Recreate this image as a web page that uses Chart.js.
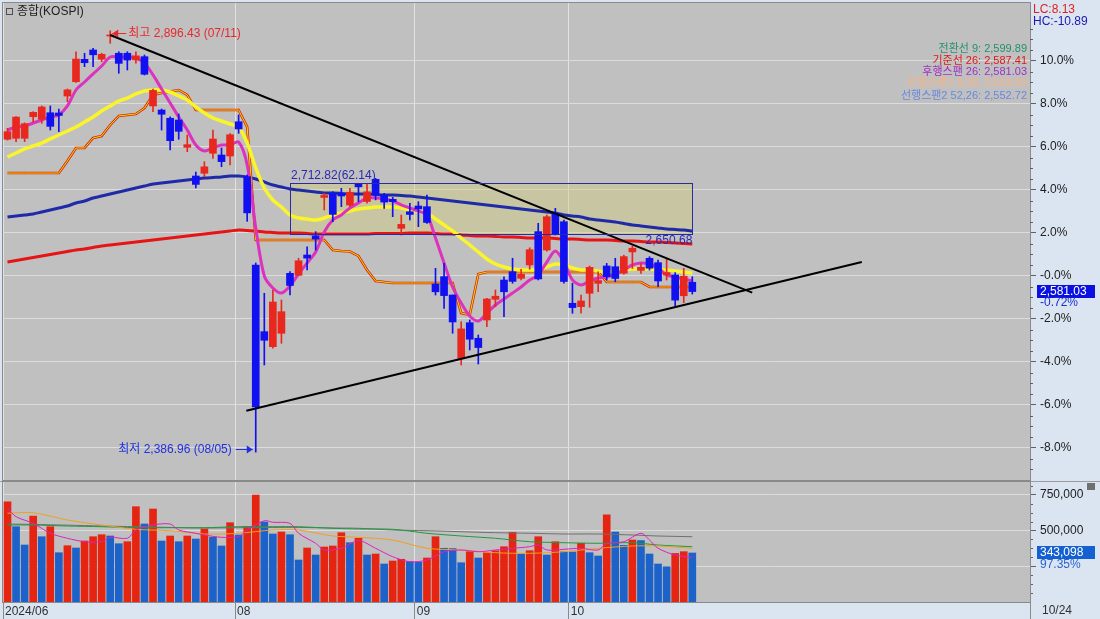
<!DOCTYPE html>
<html lang="ko">
<head>
<meta charset="utf-8">
<title>종합(KOSPI)</title>
<script src="https://cdn.jsdelivr.net/npm/chart.js@4.4.1/dist/chart.umd.min.js"></script>
<style>
  html, body { margin: 0; padding: 0; background: #dbe5f1; }
  #wrap { position: relative; width: 1100px; height: 619px; overflow: hidden; }
  #priceChart { position: absolute; left: 0; top: 0; }
  #volChart { position: absolute; left: 0; top: 481px; }
</style>
</head>
<body>
<div id="wrap">
  <canvas id="priceChart" width="1100" height="482"></canvas>
  <canvas id="volChart" width="1100" height="138"></canvas>
</div>
<script>
// 0% 기준가 (전환선)
const basePrice = 2599.89;

// 일봉 2024/06/25 ~ 2024/10/24 (81일)
const opens = [2765.2, 2766.4, 2766.4, 2792.5, 2789.4, 2797.3, 2797.0, 2817.5, 2834.8, 2861.9,
  2873.2, 2862.0, 2890.1, 2869.2, 2869.2, 2861.1, 2865.1, 2805.5, 2800.6, 2790.6,
  2788.5, 2755.5, 2720.8, 2724.1, 2748.3, 2746.2, 2745.0, 2786.4, 2720.0, 2613.0,
  2532.6, 2514.4, 2530.6, 2603.1, 2600.7, 2625.3, 2648.3, 2694.9, 2699.9, 2699.9,
  2685.6, 2711.1, 2690.0, 2716.8, 2697.8, 2692.6, 2657.5, 2677.6, 2684.5, 2683.7,
  2590.2, 2599.1, 2576.9, 2500.4, 2543.4, 2524.6, 2546.7, 2571.7, 2595.0, 2605.1,
  2597.1, 2613.2, 2653.5, 2631.3, 2675.7, 2665.5, 2566.9, 2562.8, 2579.0, 2591.0,
  2612.0, 2611.1, 2603.2, 2629.0, 2606.6, 2621.3, 2616.0, 2601.1, 2601.1, 2576.0,
  2592.3];
const highs = [2778.5, 2792.6, 2785.0, 2798.6, 2805.5, 2805.5, 2801.8, 2826.0, 2871.1, 2869.2,
  2875.2, 2869.2, 2896.43, 2871.1, 2871.1, 2871.1, 2867.1, 2826.0, 2801.8, 2792.5,
  2795.8, 2770.4, 2725.6, 2738.1, 2776.4, 2754.7, 2772.0, 2794.6, 2722.0, 2615.6,
  2579.0, 2583.0, 2570.9, 2605.1, 2621.3, 2635.3, 2653.5, 2699.9, 2701.8, 2705.9,
  2705.9, 2712.0, 2712.0, 2718.0, 2699.9, 2695.0, 2673.6, 2687.8, 2689.7, 2697.8,
  2609.2, 2615.2, 2576.9, 2544.6, 2546.7, 2528.5, 2573.0, 2583.0, 2599.0, 2621.3,
  2608.0, 2634.0, 2663.6, 2673.6, 2681.7, 2667.6, 2591.1, 2576.9, 2612.0, 2605.0,
  2615.2, 2621.3, 2625.0, 2636.0, 2615.0, 2623.2, 2619.2, 2620.0, 2604.0, 2609.2,
  2599.0];
const lows = [2764.3, 2762.3, 2762.3, 2786.4, 2784.5, 2776.4, 2774.4, 2810.6, 2834.0, 2853.0,
  2853.0, 2859.0, 2881.3, 2845.0, 2849.0, 2857.1, 2843.0, 2798.6, 2776.4, 2752.2,
  2765.2, 2750.2, 2706.3, 2720.0, 2742.2, 2732.0, 2734.1, 2772.4, 2666.0, 2386.96,
  2492.3, 2512.5, 2518.5, 2576.9, 2600.7, 2607.1, 2631.3, 2679.7, 2665.5, 2683.7,
  2683.7, 2689.7, 2688.0, 2691.9, 2681.7, 2671.6, 2649.4, 2667.6, 2659.5, 2663.6,
  2576.9, 2560.8, 2530.6, 2492.3, 2510.4, 2493.5, 2538.6, 2562.8, 2550.7, 2591.1,
  2595.0, 2608.0, 2595.1, 2629.9, 2649.4, 2591.1, 2554.8, 2554.8, 2562.0, 2581.0,
  2595.0, 2593.0, 2602.0, 2609.0, 2603.0, 2607.0, 2587.0, 2595.0, 2563.6, 2567.6,
  2578.0];
const closes = [2774.39, 2792.05, 2784.06, 2797.82, 2804.31, 2780.86, 2794.01, 2824.94, 2862.23, 2857.76,
  2867.38, 2867.99, 2891.35, 2857.00, 2860.92, 2866.09, 2843.82, 2824.35, 2795.46, 2763.51,
  2774.82, 2758.71, 2710.65, 2731.90, 2765.52, 2738.19, 2770.69, 2777.68, 2676.19, 2441.55,
  2522.15, 2568.41, 2556.73, 2588.43, 2618.30, 2621.50, 2644.50, 2697.23, 2674.36, 2696.63,
  2701.13, 2707.67, 2701.69, 2698.01, 2689.25, 2689.83, 2662.28, 2674.31, 2681.00, 2664.63,
  2580.80, 2576.20, 2544.28, 2535.93, 2523.43, 2513.37, 2572.09, 2575.41, 2580.80, 2593.37,
  2602.01, 2631.68, 2596.32, 2671.57, 2649.78, 2593.27, 2561.69, 2569.71, 2610.38, 2594.36,
  2599.16, 2596.91, 2623.34, 2633.45, 2610.36, 2609.30, 2593.82, 2604.06, 2570.70, 2599.62,
  2581.03];

// 이동평균/지표선
const ma5 = [2776.4, 2780.1, 2781.3, 2784.9, 2788.5, 2792.2, 2794.6, 2805.5, 2824.8, 2834.5,
  2844.2, 2853.8, 2864.7, 2864.7, 2864.7, 2863.5, 2857.5, 2843.0, 2826.0, 2809.1,
  2792.2, 2776.4, 2758.3, 2751.1, 2754.7, 2758.3, 2758.3, 2761.9, 2734.1, 2657.9,
  2599.9, 2585.4, 2579.3, 2587.8, 2602.3, 2615.6, 2628.9, 2653.1, 2667.6, 2673.7,
  2682.1, 2688.2, 2694.2, 2694.2, 2693.0, 2690.6, 2685.8, 2682.1, 2678.5, 2673.7,
  2645.8, 2615.6, 2586.6, 2567.2, 2551.5, 2545.5, 2555.1, 2564.8, 2572.1, 2579.3,
  2586.6, 2595.1, 2601.1, 2616.8, 2630.1, 2616.8, 2595.1, 2589.0, 2593.8, 2597.5,
  2598.7, 2602.3, 2607.2, 2613.2, 2615.6, 2614.4, 2609.6, 2601.1, 2598.7, 2596.3,
  2593.8];
const ma20 = [2743.8, 2748.6, 2753.5, 2757.1, 2760.7, 2765.6, 2770.4, 2775.2, 2780.1, 2786.1,
  2792.2, 2799.4, 2805.5, 2811.5, 2815.1, 2820.0, 2823.6, 2824.8, 2824.8, 2822.4,
  2817.6, 2812.7, 2804.3, 2797.0, 2791.0, 2787.3, 2783.7, 2780.1, 2760.7, 2730.5,
  2706.3, 2691.8, 2683.3, 2673.7, 2670.0, 2668.8, 2667.6, 2670.0, 2673.7, 2676.1,
  2678.5, 2680.9, 2682.1, 2683.3, 2683.3, 2683.3, 2682.1, 2679.7, 2678.5, 2676.1,
  2668.8, 2661.6, 2654.3, 2645.8, 2637.4, 2628.9, 2620.5, 2614.4, 2610.8, 2608.4,
  2607.2, 2607.2, 2607.2, 2610.8, 2614.4, 2613.2, 2609.6, 2607.2, 2607.2, 2605.9,
  2604.7, 2605.9, 2607.2, 2608.4, 2608.4, 2608.4, 2607.2, 2607.2, 2605.9, 2604.7,
  2603.5];
const kijun = [2724.4, 2724.4, 2724.4, 2724.4, 2724.4, 2724.4, 2724.4, 2739.0, 2754.7, 2754.7,
  2766.8, 2769.2, 2782.5, 2793.4, 2794.6, 2795.8, 2803.0, 2818.8, 2821.2, 2823.0,
  2824.8, 2818.8, 2800.6, 2800.6, 2800.6, 2800.6, 2800.6, 2800.6, 2780.1, 2643.4,
  2643.4, 2643.4, 2643.4, 2643.4, 2643.4, 2643.4, 2643.4, 2643.4, 2631.3, 2630.1,
  2629.5, 2624.1, 2607.2, 2593.8, 2592.6, 2591.4, 2591.4, 2591.4, 2591.4, 2591.4,
  2591.4, 2591.4, 2591.4, 2555.1, 2552.7, 2602.3, 2604.7, 2604.7, 2604.7, 2604.7,
  2604.7, 2604.7, 2604.7, 2604.7, 2604.7, 2604.7, 2604.7, 2604.7, 2604.7, 2604.7,
  2592.6, 2592.6, 2592.6, 2592.6, 2592.6, 2586.6, 2586.6, 2586.6, 2586.6, 2586.6,
  2586.6];
const ma60 = [2671.2, 2672.4, 2673.7, 2674.9, 2677.3, 2679.7, 2682.1, 2684.5, 2688.2, 2690.6,
  2694.2, 2696.6, 2699.1, 2701.5, 2703.9, 2706.3, 2708.7, 2711.1, 2712.4, 2713.6,
  2714.8, 2716.0, 2717.2, 2718.4, 2719.0, 2719.6, 2720.8, 2720.8, 2719.6, 2717.2,
  2713.6, 2709.9, 2707.5, 2705.1, 2703.9, 2702.7, 2701.5, 2700.3, 2700.3, 2699.7,
  2699.1, 2699.1, 2699.1, 2698.4, 2697.8, 2697.8, 2697.2, 2696.6, 2695.4, 2694.2,
  2693.0, 2691.8, 2690.6, 2689.4, 2688.2, 2687.0, 2685.8, 2684.5, 2683.3, 2682.1,
  2680.9, 2679.7, 2678.5, 2677.3, 2676.1, 2673.7, 2672.4, 2671.2, 2668.8, 2667.6,
  2666.4, 2665.2, 2663.4, 2661.6, 2660.4, 2659.1, 2657.9, 2656.7, 2656.1, 2655.5,
  2654.3];
const ma120 = [2616.8, 2618.6, 2620.5, 2622.3, 2624.1, 2625.9, 2627.7, 2629.5, 2631.3, 2632.5,
  2634.4, 2636.2, 2637.4, 2638.6, 2639.8, 2641.0, 2642.2, 2643.4, 2644.6, 2645.8,
  2647.1, 2648.3, 2649.5, 2650.7, 2651.9, 2653.1, 2654.3, 2655.5, 2654.9, 2654.3,
  2653.1, 2652.5, 2651.9, 2651.9, 2651.9, 2651.3, 2650.7, 2650.7, 2650.7, 2650.7,
  2650.7, 2650.7, 2650.7, 2651.3, 2651.3, 2651.3, 2651.3, 2651.9, 2651.9, 2651.9,
  2651.3, 2650.7, 2650.7, 2649.5, 2648.9, 2648.3, 2648.3, 2647.7, 2647.1, 2647.1,
  2646.5, 2645.8, 2645.8, 2645.8, 2645.2, 2644.6, 2644.6, 2644.0, 2643.4, 2643.4,
  2643.4, 2642.8, 2642.2, 2642.2, 2641.6, 2641.0, 2641.0, 2640.4, 2639.8, 2639.2,
  2638.6];

// 추세선 (x = 봉 번호)
const trendDownX = [12, 87.0];
const trendDownY = [2891.3, 2579.7];
const trendUpX = [27.9, 99.8];
const trendUpY = [2437.0, 2616.8];

// 박스 구간
const boxFrom = 33, boxTo = 80;
const boxTop = 2712.82, boxBottom = 2650.68;

// 거래량
const vols = [702000, 527000, 399000, 602000, 457000, 527000, 345000, 394000, 378000, 427000,
  457000, 471000, 462000, 408000, 422000, 667000, 546000, 651000, 427000, 462000,
  422000, 462000, 441000, 511000, 453000, 392000, 555000, 469000, 527000, 749000,
  560000, 476000, 490000, 471000, 294000, 378000, 329000, 385000, 392000, 485000,
  415000, 446000, 329000, 336000, 266000, 287000, 299000, 282000, 278000, 308000,
  457000, 376000, 374000, 275000, 352000, 308000, 345000, 359000, 387000, 488000,
  336000, 359000, 457000, 329000, 422000, 352000, 350000, 411000, 345000, 322000,
  611000, 490000, 397000, 434000, 430000, 336000, 266000, 247000, 340000, 352438,
  343098];
const volMa5Idx = [0, 1, 3, 5, 7, 9, 11, 12, 14, 15, 17, 19, 20, 22, 23, 25, 27, 28, 30, 31,
  33, 34, 36, 37, 39, 41, 43, 45, 47, 49, 51, 53, 55, 57, 59, 61, 62, 63, 65, 67,
  69, 70, 72, 74, 75, 76, 78, 80];
const volMa5 = [656000, 597000, 551000, 481000, 446000, 422000, 422000, 453000, 446000, 504000,
  539000, 546000, 504000, 481000, 469000, 453000, 457000, 504000, 569000, 558000,
  551000, 481000, 411000, 364000, 376000, 430000, 376000, 317000, 282000, 294000,
  352000, 364000, 352000, 364000, 376000, 387000, 399000, 364000, 369000, 376000,
  364000, 411000, 422000, 481000, 434000, 376000, 329000, 313000];
const volSlowIdx = [0, 3, 7, 11, 15, 19, 23, 27, 31, 34, 38, 41, 45, 49, 53, 57, 61, 65, 69, 73, 76, 80];
const volMa20 = [621000, 625000, 574000, 539000, 509000, 499000, 476000, 481000, 504000, 504000, 462000,
  453000, 434000, 376000, 364000, 345000, 341000, 352000, 376000, 392000, 392000, 376000];
const volMa60 = [539000, 539000, 532000, 527000, 520000, 520000, 520000, 527000, 527000, 527000, 516000,
  511000, 509000, 481000, 462000, 446000, 422000, 415000, 411000, 415000, 399000, 387000];
const volMa120 = [546000, 543000, 538000, 532000, 527000, 522000, 518000, 520000, 522000, 522000, 518000,
  516000, 504000, 499000, 492000, 485000, 481000, 476000, 476000, 469000, 462000, 457000];

// 축
const monthTicks = [-0.526, 26.58, 47.58, 65.58];
const monthLabels = ['2024/06', '08', '09', '10'];
const pctTicks = [-8, -6, -4, -2, 0, 2, 4, 6, 8, 10];
const volTicks = [250000, 500000, 750000];

const legendLines = ['전환선 9: 2,599.89', '기준선 26: 2,587.41', '후행스팬 26: 2,581.03',
  '선행스팬1 9,26: 2,593.65', '선행스팬2 52,26: 2,552.72'];

const X_MIN = -0.526, X_MAX = 119.45;
const FONT = '12px "Liberation Sans", "Noto Sans CJK KR", sans-serif';
const SMALL = '11px "Liberation Sans", "Noto Sans CJK KR", sans-serif';
const UP = '#e8281e', DOWN = '#1010f0';

const pts = arr => arr.map((v, i) => ({ x: i, y: v }));
const pairs = (xs, ys) => xs.map((x, k) => ({ x: x, y: ys[k] }));
const candleColors = opens.map((o, i) => closes[i] >= o ? UP : DOWN);
const volColors = vols.map((v, i) => (i === 0 || v >= vols[i - 1]) ? '#e62412' : '#1c62c8');

function text(ctx, s, x, y, color, align) {
    ctx.fillStyle = color;
    ctx.textAlign = align || 'left';
    ctx.textBaseline = 'middle';
    ctx.fillText(s, x, y);
}

function arrow(ctx, x1, y, x2, color) {
    ctx.strokeStyle = color;
    ctx.fillStyle = color;
    ctx.lineWidth = 1;
    ctx.beginPath();
    ctx.moveTo(x1, y + 0.5);
    ctx.lineTo(x2, y + 0.5);
    ctx.stroke();
    const d = x2 > x1 ? -1 : 1;
    ctx.beginPath();
    ctx.moveTo(x2, y + 0.5);
    ctx.lineTo(x2 + d * 6, y - 3.5);
    ctx.lineTo(x2 + d * 6, y + 4.5);
    ctx.closePath();
    ctx.fill();
}

function minorTicks(ctx, scale, from, to, step, skipEvery, x0) {
    ctx.strokeStyle = '#606060';
    ctx.lineWidth = 1;
    ctx.beginPath();
    for (let k = 0, v = from; v <= to + 1e-9; k++, v += step) {
        if (k % skipEvery === 0) continue;
        const y = Math.round(scale.getPixelForValue(v)) + 0.5;
        if (y < scale.top || y > scale.bottom) continue;
        ctx.moveTo(x0, y);
        ctx.lineTo(x0 + 3, y);
    }
    ctx.stroke();
}

const mainDeco = {
    id: 'mainDeco',
    beforeDraw(c) {
        const { ctx, chartArea: a } = c;
        ctx.save();
        ctx.fillStyle = '#c0c0c0';
        ctx.fillRect(a.left, a.top, a.right - a.left, a.bottom - a.top);
        ctx.fillStyle = '#9c9c9c';
        ctx.fillRect(0, a.bottom + 1, c.width, c.height - a.bottom - 1);
        ctx.restore();
    },
    beforeDatasetsDraw(c) {
        const { ctx, scales: { x, y } } = c;
        const l = x.getPixelForValue(boxFrom), r = x.getPixelForValue(boxTo);
        const t = y.getPixelForValue(boxTop), b = y.getPixelForValue(boxBottom);
        ctx.save();
        ctx.fillStyle = 'rgba(214, 204, 112, 0.38)';
        ctx.fillRect(l, t, r - l, b - t);
        ctx.restore();
    },
    afterDatasetsDraw(c) {
        const { ctx, chartArea: a, scales: { x, y } } = c;
        ctx.save();
        ctx.font = FONT;

        // 박스 테두리와 값
        const l = x.getPixelForValue(boxFrom), r = x.getPixelForValue(boxTo);
        const t = y.getPixelForValue(boxTop), b = y.getPixelForValue(boxBottom);
        ctx.strokeStyle = '#2a2aa8';
        ctx.lineWidth = 1;
        ctx.strokeRect(Math.round(l) + 0.5, Math.round(t) + 0.5, Math.round(r - l), Math.round(b - t));
        text(ctx, '2,712.82(62.14)', l + 1, t - 7, '#2a2ab0');
        text(ctx, '2,650.68', r, b + 7, '#2a2ab0', 'right');

        // 최고/최저
        const hx = x.getPixelForValue(12), hy = Math.round(y.getPixelForValue(2896.43)) + 2;
        arrow(ctx, hx + 16, hy, hx + 2, '#e8282c');
        text(ctx, '최고 2,896.43 (07/11)', hx + 18, hy + 1, '#e8282c');
        const lx = x.getPixelForValue(29), ly = Math.round(y.getPixelForValue(2386.96)) - 3;
        arrow(ctx, lx - 20, ly, lx - 3, '#2030e0');
        text(ctx, '최저 2,386.96 (08/05)', lx - 24, ly + 1, '#2030e0', 'right');

        // 지표 값
        ctx.font = SMALL;
        const colors = ['#23906a', '#e01818', '#a030c0', '#f6b286', '#6a88dc'];
        const ys = [49, 61, 72, 83, 96];
        legendLines.forEach((s, i) => text(ctx, s, a.right - 3, ys[i], colors[i], 'right'));
        ctx.font = FONT;

        // 제목
        ctx.strokeStyle = '#505050';
        ctx.strokeRect(6.5, 8.5, 6, 6);
        text(ctx, '종합(KOSPI)', 17, 12, '#202020');

        ctx.strokeStyle = '#8a8a8a';
        ctx.strokeRect(a.left - 0.5, a.top - 0.5, a.right - a.left + 1, a.bottom - a.top + 1);
        ctx.restore();
    },
    afterDraw(c) {
        const { ctx, chartArea: a, scales: { y } } = c;
        ctx.save();
        ctx.font = FONT;
        minorTicks(ctx, y, basePrice * 0.9, basePrice * 1.115, basePrice * 0.005, 4, a.right);
        text(ctx, 'LC:8.13', a.right + 3, 10, '#e02020');
        text(ctx, 'HC:-10.89', a.right + 3, 22, '#1a1ab0');
        const cy = Math.round(y.getPixelForValue(closes[closes.length - 1]));
        ctx.fillStyle = '#0a10e0';
        ctx.fillRect(a.right + 7, cy - 7, 58, 13);
        text(ctx, '2,581.03', a.right + 10, cy, '#ffffff');
        text(ctx, '-0.72%', a.right + 10, cy + 11, '#1a30d0');
        ctx.restore();
    }
};

const volDeco = {
    id: 'volDeco',
    beforeDraw(c) {
        const { ctx, chartArea: a } = c;
        ctx.save();
        ctx.fillStyle = '#9c9c9c';
        ctx.fillRect(0, 0, c.width, a.top);
        ctx.fillStyle = '#c0c0c0';
        ctx.fillRect(a.left, a.top, a.right - a.left, a.bottom - a.top);
        ctx.restore();
    },
    afterDraw(c) {
        const { ctx, chartArea: a, scales: { y } } = c;
        ctx.save();
        ctx.font = FONT;
        minorTicks(ctx, y, 0, 833000, 62500, 4, a.right);
        ctx.strokeStyle = '#8a8a8a';
        ctx.lineWidth = 1;
        ctx.strokeRect(a.left - 0.5, a.top - 0.5, a.right - a.left + 1, a.bottom - a.top + 1);
        ctx.beginPath();
        ctx.moveTo(a.right + 0.5, a.bottom);
        ctx.lineTo(a.right + 0.5, c.height);
        ctx.stroke();
        const vy = Math.round(y.getPixelForValue(vols[vols.length - 1]));
        ctx.fillStyle = '#1560d0';
        ctx.fillRect(a.right + 7, vy - 7, 58, 13);
        text(ctx, '343,098', a.right + 10, vy, '#ffffff');
        text(ctx, '97.35%', a.right + 10, vy + 12, '#2a62d0');
        text(ctx, '10/24', a.right + 12, a.bottom + 9, '#303030');
        ctx.fillStyle = '#707070';
        ctx.fillRect(a.right + 57, a.top + 1, 8, 7);
        ctx.restore();
    }
};

Chart.defaults.font.family = '"Liberation Sans", "Noto Sans CJK KR", sans-serif';
Chart.defaults.font.size = 12;

function lineSet(data, color, width, order, tension) {
    return {
        type: 'line', data: data, borderColor: color, borderWidth: width,
        pointRadius: 0, tension: tension, order: order, fill: false
    };
}

new Chart(document.getElementById('priceChart'), {
    type: 'bar',
    data: {
        datasets: [
            lineSet(pairs(trendDownX, trendDownY), '#000000', 2, 0, 0),
            lineSet(pairs(trendUpX, trendUpY), '#000000', 2, 0, 0),
            {
                data: opens.map((o, i) => ({ x: i, y: [o, closes[i]] })),
                backgroundColor: candleColors, borderWidth: 0,
                barThickness: 7, minBarLength: 1, grouped: false, order: 1
            },
            {
                data: lows.map((l, i) => ({ x: i, y: [l, highs[i]] })),
                backgroundColor: candleColors, borderWidth: 0,
                barThickness: 1, grouped: false, order: 2
            },
            lineSet(pts(ma5), '#dc32be', 3, 3, 0.3),
            lineSet(pts(ma20), '#faf52a', 3.5, 4, 0.3),
            lineSet(pts(kijun), '#ffd000', 1, 5, 0),
            lineSet(pts(kijun), '#d03010', 2.6, 6, 0),
            lineSet(pts(ma60), '#1e2aa8', 3, 7, 0.3),
            lineSet(pts(ma120), '#e61414', 3, 8, 0.3)
        ]
    },
    options: {
        responsive: false,
        devicePixelRatio: 1,
        animation: false,
        events: [],
        layout: { padding: { left: 3, top: 3, right: 0, bottom: 2 } },
        plugins: { legend: { display: false }, tooltip: { enabled: false } },
        scales: {
            x: {
                type: 'linear', min: X_MIN, max: X_MAX, offset: false,
                afterBuildTicks: s => { s.ticks = monthTicks.map(v => ({ value: v })); },
                afterFit: s => { s.height = 0; s.paddingLeft = 0; s.paddingRight = 0; },
                grid: { color: '#e2e2e2', offset: false, drawTicks: false },
                border: { display: false },
                ticks: { display: false }
            },
            y: {
                type: 'linear', position: 'right', min: 2353.2, max: 2930.0, beginAtZero: false,
                afterBuildTicks: s => { s.ticks = pctTicks.map(k => ({ value: basePrice * (1 + k / 100) })); },
                afterFit: s => { s.width = 70; s.paddingTop = 0; s.paddingBottom = 0; },
                grid: { color: '#dcdcdc', tickColor: '#606060', tickLength: 6 },
                border: { color: '#8a8a8a' },
                ticks: {
                    padding: 4, color: '#202020',
                    callback: (v, i) => (pctTicks[i] === 0 ? '-0.0' : pctTicks[i].toFixed(1)) + '%'
                }
            }
        }
    },
    plugins: [mainDeco]
});

new Chart(document.getElementById('volChart'), {
    type: 'bar',
    data: {
        datasets: [
            lineSet(pairs(volMa5Idx, volMa5), '#e020c0', 1, 0, 0.3),
            lineSet(pairs(volSlowIdx, volMa20), '#f0a020', 1, 1, 0.3),
            lineSet(pairs(volSlowIdx, volMa60), '#209a40', 1, 2, 0.3),
            lineSet(pairs(volSlowIdx, volMa120), '#707070', 1, 3, 0.3),
            {
                data: pts(vols), backgroundColor: volColors, borderWidth: 0,
                barThickness: 7, grouped: false, order: 5
            }
        ]
    },
    options: {
        responsive: false,
        devicePixelRatio: 1,
        animation: false,
        events: [],
        layout: { padding: { left: 3, top: 1, right: 0, bottom: 0 } },
        plugins: { legend: { display: false }, tooltip: { enabled: false } },
        scales: {
            x: {
                type: 'linear', min: X_MIN, max: X_MAX, offset: false,
                afterBuildTicks: s => { s.ticks = monthTicks.map(v => ({ value: v })); },
                afterFit: s => { s.height = 17; s.paddingLeft = 0; s.paddingRight = 0; },
                grid: { color: '#e2e2e2', offset: false, tickColor: '#8a8a8a', tickLength: 17 },
                border: { color: '#8a8a8a' },
                ticks: {
                    align: 'start', padding: -15, labelOffset: 2, autoSkip: false, maxRotation: 0,
                    color: '#303030', callback: (v, i) => monthLabels[i]
                }
            },
            y: {
                type: 'linear', position: 'right', min: 0, max: 840000,
                afterBuildTicks: s => { s.ticks = volTicks.map(v => ({ value: v })); },
                afterFit: s => { s.width = 70; s.paddingTop = 0; s.paddingBottom = 0; },
                grid: { color: '#dcdcdc', tickColor: '#606060', tickLength: 6 },
                border: { color: '#8a8a8a' },
                ticks: {
                    padding: 4, color: '#202020',
                    callback: v => v === 250000 ? '' : v.toLocaleString('en-US')
                }
            }
        }
    },
    plugins: [volDeco]
});
</script>
</body>
</html>
